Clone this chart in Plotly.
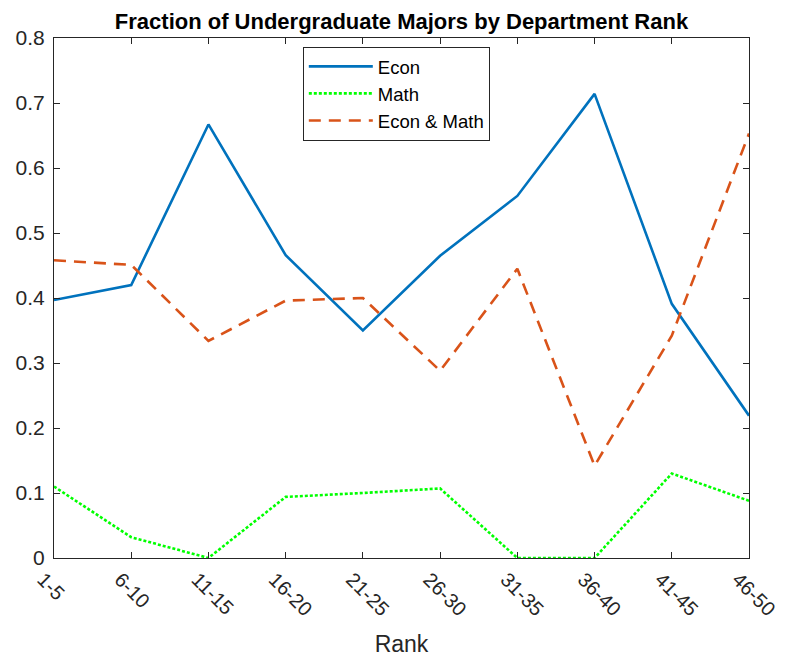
import plotly.graph_objects as go

ranks = ["1-5", "6-10", "11-15", "16-20", "21-25", "26-30", "31-35", "36-40", "41-45", "46-50"]
econ = [0.397, 0.420, 0.667, 0.466, 0.350, 0.465, 0.557, 0.714, 0.391, 0.219]
math = [0.110, 0.032, 0.000, 0.094, 0.100, 0.107, 0.000, 0.000, 0.130, 0.088]
econ_math = [0.458, 0.451, 0.334, 0.396, 0.400, 0.288, 0.445, 0.142, 0.342, 0.653]
yticks = [0, 0.1, 0.2, 0.3, 0.4, 0.5, 0.6, 0.7, 0.8]
ytick_text = ["0", "0.1", "0.2", "0.3", "0.4", "0.5", "0.6", "0.7", "0.8"]

xs = list(range(len(ranks)))
axis_col = "#262626"
font = "Liberation Sans, Arial, sans-serif"

W, H = 787, 662
L, R, T, B = 46, 46, 30, 112

fig = go.Figure()
fig.add_trace(go.Scatter(x=xs, y=econ, mode="lines", name="Econ",
                         line=dict(color="#0072BD", width=2.6)))
fig.add_trace(go.Scatter(x=xs, y=math, mode="lines", name="Math",
                         line=dict(color="#00FF00", width=2.6, dash="3px,2px")))
fig.add_trace(go.Scatter(x=xs, y=econ_math, mode="lines", name="Econ & Math",
                         line=dict(color="#D95319", width=2.6, dash="12px,8px")))

fig.update_layout(
    width=W, height=H,
    margin=dict(l=L, r=R, t=T, b=B),
    paper_bgcolor="white", plot_bgcolor="white",
    font=dict(family=font, color=axis_col),
    title=dict(text="<b>Fraction of Undergraduate Majors by Department Rank</b>",
               x=(L + W - R) / 2 / W, xanchor="center", y=1 - 13 / H, yanchor="middle",
               font=dict(size=22, color="black")),
    showlegend=True,
    legend=dict(x=0.358, y=0.983, xanchor="left", yanchor="top",
                bordercolor=axis_col, borderwidth=1, bgcolor="white",
                font=dict(size=18.5, color="black"), itemwidth=64,
                tracegroupgap=0),
    xaxis=dict(range=[0, len(ranks) - 1], tickmode="array", tickvals=xs, ticktext=ranks,
               tickangle=45, ticks="inside", ticklen=6, tickcolor=axis_col,
               showline=True, linecolor=axis_col, linewidth=1, mirror="allticks",
               showgrid=False, zeroline=False, automargin=False,
               ticklabelshift=-11, ticklabelstandoff=1,
               tickfont=dict(size=20, color=axis_col),
               title=dict(text="Rank", font=dict(size=23, color=axis_col), standoff=16)),
    yaxis=dict(range=[0, 0.8], tickmode="array", tickvals=yticks, ticktext=ytick_text,
               ticks="inside", ticklen=6, tickcolor=axis_col,
               showline=True, linecolor=axis_col, linewidth=1, mirror="allticks",
               showgrid=False, zeroline=False, automargin=False, ticklabelstandoff=4,
               tickfont=dict(size=21, color=axis_col)),
)

fig.write_html("out.html")
